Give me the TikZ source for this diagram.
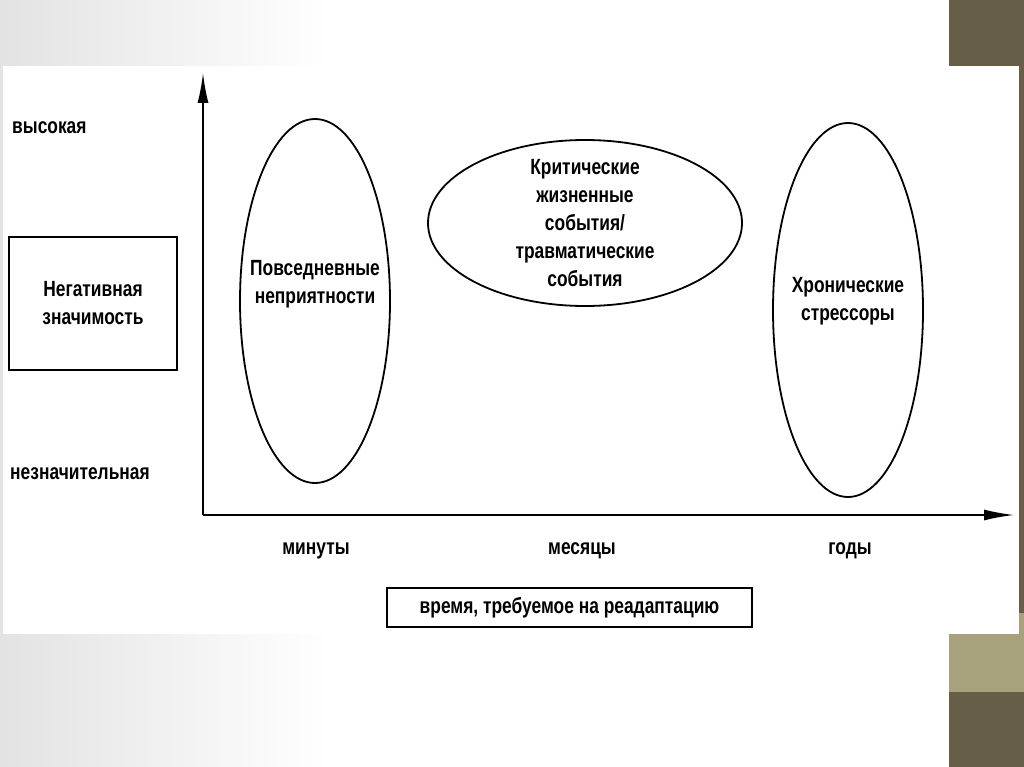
\documentclass[tikz,border=0pt]{standalone}
\usepackage{fontspec}
\setmainfont{Liberation Sans}[FakeStretch=0.79]
\usetikzlibrary{arrows.meta,shapes.geometric}

\definecolor{olivedark}{HTML}{675E48}
\definecolor{olivelight}{HTML}{A8A27C}

\tikzset{
  every stressor/.style={ellipse, draw, inner sep=0pt},
  every box/.style={rectangle, draw, align=center, inner sep=0pt},
}

\begin{document}
\begin{tikzpicture}[x=1pt, y=-1pt, line width=1.8pt, >={Latex[length=30pt, width=11pt]},
  font=\bfseries\fontsize{22}{28}\selectfont]

\useasboundingbox (0,0) rectangle (1024,767);

% slide
\fill[white] (0,0) rectangle (1024,767);
\shade[left color=black!11, right color=white] (0,0) rectangle (330,767);
\fill[olivedark] (949,0) rectangle (1024,66);
\fill[olivelight] (949,634) rectangle (1024,692);
\fill[olivedark] (949,692) rectangle (1024,767);
\fill[olivedark] (1019,66) rectangle (1024,613);
\fill[olivelight] (1019,613) rectangle (1024,634);
\fill[white] (3,66) rectangle (1019,634);

% axes
\coordinate (origin) at (203,515);
\coordinate (y-tip) at (203,73);
\coordinate (x-tip) at (1014,515);
\draw [->] (origin) -- (y-tip);
\draw [->] (origin) -- (x-tip);

% stressors
\node [every stressor, minimum width=150, minimum height=364] (stressor-1) at (315,301) {};
\node [align=center] (stressor-1-text) at (315,284) {Повседневные\\неприятности};
\node [every stressor, minimum width=314, minimum height=166] (stressor-2) at (585,223) {};
\node [align=center] (stressor-2-text) at (585,223)
  {Критические\\жизненные\\события/\\травматические\\события};
\node [every stressor, minimum width=150, minimum height=374] (stressor-3) at (848,310) {};
\node [align=center] (stressor-3-text) at (848,301) {Хронические\\стрессоры};

% y axis
\node [every box, minimum width=168, minimum height=133] (negative) at (93,303.5)
  {Негативная\\значимость};
\node [anchor=west] (y-high) at (8,128) {высокая};
\node [anchor=west] (y-low) at (6,474) {незначительная};

% x axis
\foreach \l/\x in {минуты/316, месяцы/582, годы/850}
  \node (time-\l) at (\x,551) {\l};

\node [every box, minimum width=365, minimum height=39] (readapt) at (569.5,607.5)
  {время, требуемое на реадаптацию};

\end{tikzpicture}
\end{document}
